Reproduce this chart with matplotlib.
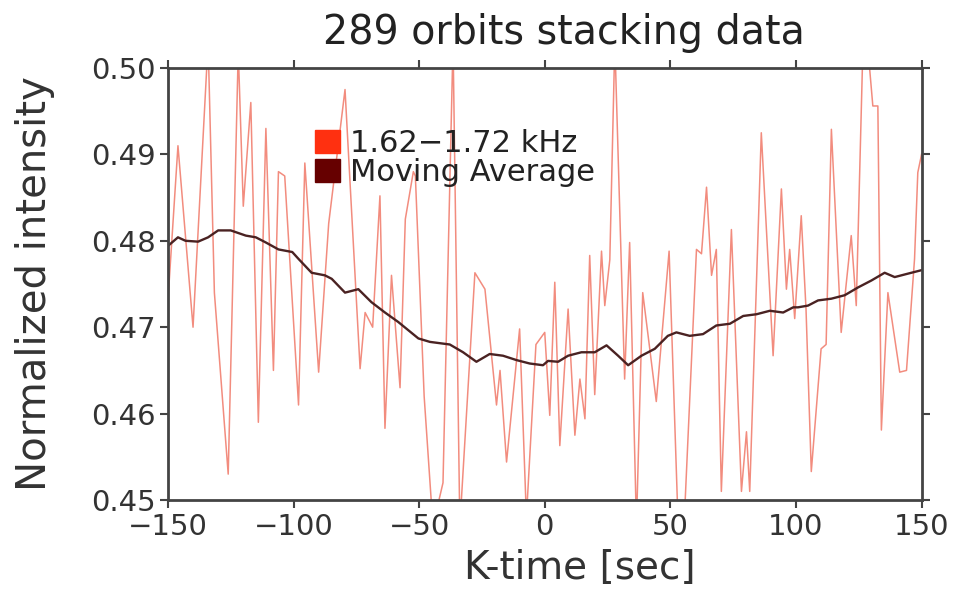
import matplotlib
matplotlib.use("Agg")
import matplotlib.pyplot as plt
from matplotlib.patches import Patch

# raw stacked signal (K-time in sec, normalized intensity)
ktime = [-150, -146, -140, -134, -131.5, -126, -122, -120, -117, -114, -111, -108,
         -106, -103.5, -98, -95.5, -90, -86, -79.5, -73.5, -71.5, -68.5, -65.6,
         -63.6, -61, -57.6, -55.5, -52.3, -51.5, -48, -44.5, -40.5, -36.5, -33.8,
         -27.8, -23.8, -19.2, -17.8, -15.2, -10, -7.3, -3.5, 0, 2, 4, 6, 9.3, 12,
         14, 16, 17.9, 19.9, 22.6, 23.9, 25.9, 27.9, 31.8, 33.8, 36.5, 39, 41.8,
         44.4, 49.5, 53, 55.6, 60.4, 62.4, 64.4, 66.4, 68.3, 70.3, 74.3, 78.3,
         80.3, 81.6, 86.2, 90.9, 94.2, 96.2, 97.5, 99.5, 102.1, 104, 106.1, 110,
         112, 114.1, 118, 122, 124, 126.7, 129.3, 130.6, 132.6, 134, 136.6,
         141.3, 144, 147.2, 148.5, 150]
intensity = [0.473, 0.491, 0.470, 0.503, 0.474, 0.453, 0.502, 0.484, 0.496, 0.459,
             0.493, 0.465, 0.488, 0.4875, 0.461, 0.489, 0.4648, 0.482, 0.4975,
             0.4652, 0.4717, 0.470, 0.4852, 0.4583, 0.476, 0.463, 0.4825, 0.488,
             0.4875, 0.462, 0.447, 0.452, 0.503, 0.447, 0.4763, 0.4744, 0.461,
             0.465, 0.4544, 0.4698, 0.448, 0.468, 0.4694, 0.4598, 0.4752, 0.4563,
             0.4721, 0.4575, 0.464, 0.4594, 0.4783, 0.4622, 0.4788, 0.4725, 0.4778,
             0.503, 0.464, 0.4798, 0.447, 0.474, 0.4675, 0.4614, 0.4788, 0.448,
             0.448, 0.479, 0.4785, 0.4862, 0.476, 0.479, 0.451, 0.4813, 0.451,
             0.4579, 0.451, 0.4925, 0.4667, 0.486, 0.4744, 0.479, 0.471, 0.4829,
             0.4721, 0.4533, 0.4675, 0.468, 0.4929, 0.4694, 0.4806, 0.4725, 0.503,
             0.500, 0.4956, 0.4956, 0.4581, 0.474, 0.4648, 0.465, 0.4779, 0.4879,
             0.490]

# moving average curve
ma_time = [-150, -146, -143, -138, -134, -130, -125, -119, -115, -111, -106, -100.5,
           -98, -92.8, -87.5, -84.8, -79.5, -74.2, -69, -63.6, -58.3, -50.3, -45.7,
           -37.8, -32.5, -27.2, -21.9, -16.6, -11.3, -6, -0.7, 1.3, 5.3, 9.3, 14.6,
           19.9, 24.6, 29.2, 33.2, 38.5, 43.8, 49, 52.4, 57.7, 63, 68.3, 73.7, 79,
           84.3, 89.6, 94.9, 98.9, 100.8, 104.8, 108.8, 114.1, 119.4, 124.7, 130,
           135.3, 139.3, 144.6, 150]
ma_value = [0.4794, 0.4804, 0.4800, 0.4799, 0.4804, 0.4812, 0.4812, 0.4806, 0.4804,
            0.4798, 0.4790, 0.4787, 0.4779, 0.4763, 0.4760, 0.4756, 0.4740, 0.4744,
            0.4729, 0.4717, 0.4706, 0.4687, 0.4683, 0.4680, 0.4671, 0.4660, 0.4669,
            0.4667, 0.4662, 0.4658, 0.4656, 0.4661, 0.4660, 0.4667, 0.4671, 0.4671,
            0.4679, 0.4667, 0.4656, 0.4667, 0.4675, 0.4690, 0.4694, 0.4690, 0.4692,
            0.4702, 0.4704, 0.4713, 0.4715, 0.4719, 0.4717, 0.4723, 0.4723, 0.4725,
            0.4731, 0.4733, 0.4737, 0.4746, 0.4754, 0.4763, 0.4758, 0.4762, 0.4766]

xticks = [-150, -100, -50, 0, 50, 100, 150]
yticks = [0.45, 0.46, 0.47, 0.48, 0.49, 0.50]

plt.rcParams['font.family'] = 'DejaVu Sans'
fig = plt.figure(figsize=(9.65, 5.96), dpi=100)
ax = fig.add_axes([0.174, 0.161, 0.781, 0.725])

ax.plot(ktime, intensity, color='#f07868', lw=1.1, alpha=0.85)
ax.plot(ma_time, ma_value, color='#4a2222', lw=1.7)

ax.set_xlim(-150, 150)
ax.set_ylim(0.45, 0.50)
ax.set_xticks(xticks)
ax.set_yticks(yticks)
ax.set_xticklabels(['\u2212150', '\u2212100', '\u221250', '0', '50', '100', '150'])
ax.set_yticklabels(['%.2f' % v for v in yticks])
ax.tick_params(direction='out', length=6, width=1.5, color='#444444',
               labelsize=21, labelcolor='#333333', top=True, right=True, pad=3)
for s in ax.spines.values():
    s.set_linewidth(2)
    s.set_color('#444444')

ax.set_title('289 orbits stacking data', fontsize=28.5, color='#222222', pad=17, x=0.525)
ax.set_xlabel('K-time [sec]', fontsize=28, color='#333333')
ax.xaxis.set_label_coords(0.546, -0.113)
ax.set_ylabel('Normalized intensity', fontsize=29, color='#333333')
ax.yaxis.set_label_coords(-0.15, 0.5)

handles = [Patch(color='#ff3010'), Patch(color='#660000')]
ax.legend(handles, ['1.62\u22121.72 kHz', 'Moving Average'], loc='upper left',
          bbox_to_anchor=(0.175, 0.894), frameon=False, fontsize=22,
          handlelength=0.8, handleheight=0.8, handletextpad=0.35,
          labelspacing=0.0, borderpad=0, labelcolor='#222222')

fig.savefig('out.png', dpi=100)
